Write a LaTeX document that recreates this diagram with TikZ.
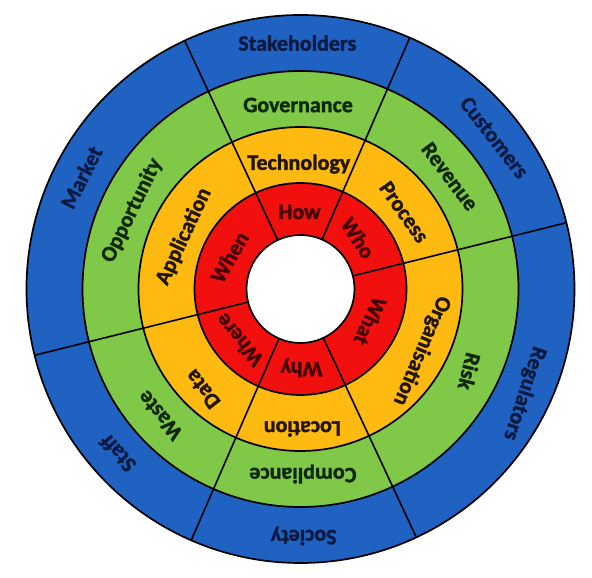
\documentclass[tikz,border=0pt]{standalone}
\usepackage{fontspec}
\setmainfont{Carlito}[BoldFont={Carlito Bold}, BoldFeatures={FakeBold=1.6}]
\definecolor{ringblue}{HTML}{1F62C2}
\definecolor{ringgreen}{HTML}{80C848}
\definecolor{ringorange}{HTML}{FFBA12}
\definecolor{ringred}{HTML}{F2100F}
\definecolor{tblue}{HTML}{0A1A40}
\definecolor{tgreen}{HTML}{0E2808}
\definecolor{torange}{HTML}{231600}
\definecolor{tred}{HTML}{420000}
\begin{document}
\begin{tikzpicture}[x=1pt,y=1pt,
  ring/.style={draw=black, line width=1.7pt},
  divider/.style={draw=black, line width=1.6pt},
  lbl/.style={font=\fontsize{22}{24}\selectfont\bfseries, inner sep=0pt},
  bl/.style={lbl, text=tblue},
  gl/.style={lbl, text=tgreen},
  ol/.style={lbl, text=torange},
  rl/.style={lbl, text=tred}]
\useasboundingbox (-300.5pt,-289pt) rectangle (291.5pt,289pt);
% rings
\path[ring, fill=ringblue]   (0,0) circle (274pt);
\path[ring, fill=ringgreen]  (0,0) circle (218pt);
\path[ring, fill=ringorange] (0,0) circle (162pt);
\path[ring, fill=ringred]    (0,0) circle (106pt);
\path[ring, fill=white]      (0,0) circle (54pt);
% dividers
\foreach \a in {14,66.5,115,194,246.5,295}
  \draw[divider] (\a:54pt) -- (\a:274pt);
% blue ring labels
\node[bl, rotate=0]    (stakeholders) at (90.75:246pt) {Stakeholders};
\node[bl, rotate=-52]  (customers)    at (38:246pt)    {Customers};
\node[bl, rotate=-108] (regulators)   at (-25:247pt)   {Regulators};
\node[bl, rotate=180]  (society)      at (270.75:247pt) {Society};
\node[bl, rotate=132]  (staff)        at (222:246pt)   {Staff};
\node[bl, rotate=63]   (market)       at (153:246pt)   {Market};
% green ring labels
\node[gl, rotate=0]    (governance)   at (90.75:184pt) {Governance};
\node[gl, rotate=-53]  (revenue)      at (37:187pt)    {Revenue};
\node[gl, rotate=-104] (risk)         at (-26:188pt)   {Risk};
\node[gl, rotate=180]  (compliance)   at (270.75:185pt) {Compliance};
\node[gl, rotate=130]  (waste)        at (222:189pt)   {Waste};
\node[gl, rotate=64]   (opportunity)  at (155:186pt)   {Opportunity};
% orange ring labels
\node[ol, rotate=0]    (technology)   at (90.75:125pt) {Technology};
\node[ol, rotate=-55]  (process)      at (36.6:129pt)  {Process};
\node[ol, rotate=-113] (organisation) at (-27:136pt)   {Organisation};
\node[ol, rotate=180]  (location)     at (270.75:140pt) {Location};
\node[ol, rotate=128]  (data)         at (225.7:140pt) {Data};
\node[ol, rotate=65]   (application)  at (155.8:128pt) {Application};
% red ring labels
\node[rl, rotate=0]    (how)   at (90.75:77pt) {How};
\node[rl, rotate=-57]  (who)   at (41.6:77pt)  {Who};
\node[rl, rotate=-115] (what)  at (-24.7:77pt) {What};
\node[rl, rotate=180]  (why)   at (270.75:79pt) {Why};
\node[rl, rotate=130]  (where) at (219.8:80pt) {Where};
\node[rl, rotate=60]   (when)  at (155.9:78pt) {When};
\end{tikzpicture}
\end{document}
